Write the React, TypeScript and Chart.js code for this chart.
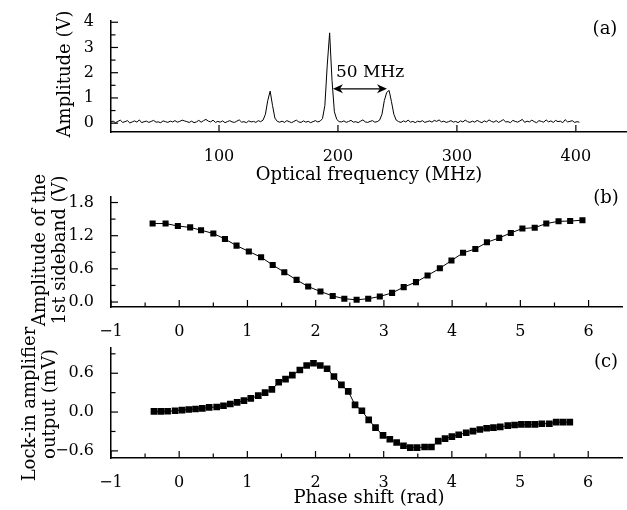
import React, { useEffect, useRef } from 'react';
import { Chart, registerables } from 'chart.js';
Chart.register(...registerables);

const FONT = '"DejaVu Serif", serif';
const W = 627;
const H = 510;

// ---------- Panel (a): optical spectrum ----------
const freqStart = 9; // MHz, first sample
const freqStep = 2; // MHz between samples
const spectrum = [
  // 9 .. 135 MHz baseline
  0.05, 0.08, 0.02, 0.07, 0.12, 0.03, 0.06, 0.10, 0.01, 0.05,
  0.09, 0.04, 0.13, 0.02, 0.06, 0.08, 0.03, 0.07, 0.11, 0.04,
  0.05, 0.02, 0.09, 0.06, 0.03, 0.08, 0.05, 0.10, 0.04, 0.07,
  0.12, 0.09, 0.06, 0.03, 0.08, 0.02, 0.05, 0.11, 0.04, 0.10,
  0.15, 0.08, 0.05, 0.12, 0.03, 0.07, 0.04, 0.09, 0.02, 0.06,
  0.10, 0.05, 0.03, 0.08, 0.13, 0.04, 0.06, 0.02, 0.09, 0.05,
  0.07, 0.03, 0.10, 0.06,
  // 137 .. 149 MHz (lower sideband)
  0.12, 0.35, 0.9, 1.27, 0.7, 0.2, 0.07,
  // 151 .. 183 MHz
  0.04, 0.08, 0.03, 0.10, 0.06, 0.02, 0.07, 0.12, 0.05, 0.03,
  0.09, 0.04, 0.07, 0.02, 0.06, 0.10, 0.05,
  // 185 .. 201 MHz (carrier)
  0.08, 0.18, 0.7, 2.3, 3.58, 1.7, 0.45, 0.15, 0.06,
  // 203 .. 233 MHz
  0.05, 0.09, 0.03, 0.07, 0.11, 0.04, 0.06, 0.02, 0.08, 0.13,
  0.05, 0.03, 0.07, 0.10, 0.04, 0.06,
  // 235 .. 249 MHz (upper sideband)
  0.12, 0.35, 0.9, 1.22, 1.3, 0.85, 0.35, 0.12,
  // 251 .. 403 MHz baseline
  0.06, 0.03, 0.09, 0.05, 0.12, 0.04, 0.07, 0.02, 0.08, 0.05,
  0.10, 0.03, 0.06, 0.09, 0.04, 0.11, 0.07, 0.13, 0.05, 0.08,
  0.03, 0.06, 0.10, 0.04, 0.07, 0.02, 0.09, 0.05, 0.12, 0.06,
  0.03, 0.08, 0.04, 0.11, 0.06, 0.02, 0.09, 0.05, 0.13, 0.07,
  0.04, 0.10, 0.03, 0.08, 0.14, 0.05, 0.06, 0.02, 0.11, 0.07,
  0.04, 0.09, 0.15, 0.03, 0.08, 0.05, 0.12, 0.06, 0.02, 0.10,
  0.07, 0.04, 0.13, 0.05, 0.09, 0.03, 0.11, 0.06, 0.08, 0.02,
  0.14, 0.05, 0.07, 0.10, 0.03, 0.06, 0.04,
];
const freqTicks = [100, 200, 300, 400];
const ampTicksA = [0, 1, 2, 3, 4];
const ampMinorA = [0.5, 1.5, 2.5, 3.5];
const arrowFrom = 195.8; // MHz
const arrowTo = 241.2; // MHz
const arrowLevel = 1.36; // V
const arrowLabel = '50 MHz';

// ---------- Panel (b): 1st sideband amplitude ----------
const phaseB = [
  -0.39, -0.2, -0.02, 0.16, 0.32, 0.5, 0.67, 0.84, 1.02, 1.2,
  1.37, 1.54, 1.72, 1.89, 2.07, 2.25, 2.42, 2.6, 2.77, 2.94,
  3.12, 3.29, 3.47, 3.64, 3.82, 3.99, 4.16, 4.34, 4.51, 4.69,
  4.86, 5.03, 5.21, 5.38, 5.56, 5.73, 5.91,
];
const sidebandB = [
  1.42, 1.42, 1.375, 1.35, 1.3, 1.24, 1.14, 1.02, 0.915, 0.81,
  0.67, 0.54, 0.4, 0.28, 0.19, 0.11, 0.06, 0.04, 0.06, 0.1,
  0.165, 0.27, 0.36, 0.48, 0.61, 0.75, 0.89, 0.96, 1.08, 1.16,
  1.25, 1.33, 1.345, 1.42, 1.46, 1.465, 1.48,
];
const ampTicksB = [0, 0.6, 1.2, 1.8];
const ampMinorB = [0.3, 0.9, 1.5];

// ---------- Panel (c): lock-in amplifier output ----------
const phaseC = [
  -0.37, -0.27, -0.17, -0.06, 0.04, 0.14, 0.24, 0.34, 0.44, 0.55,
  0.65, 0.75, 0.85, 0.95, 1.05, 1.16, 1.26, 1.36, 1.46, 1.56,
  1.66, 1.77, 1.87, 1.97, 2.07, 2.17, 2.27, 2.38, 2.48, 2.58,
  2.68, 2.78, 2.88, 2.99, 3.09, 3.19, 3.29, 3.39, 3.49, 3.6,
  3.7, 3.8, 3.9, 4.0, 4.1, 4.21, 4.31, 4.41, 4.51, 4.61,
  4.71, 4.82, 4.92, 5.02, 5.12, 5.22, 5.32, 5.43, 5.53, 5.63,
  5.73,
];
const lockInC = [
  0.01, 0.01, 0.012, 0.02, 0.03, 0.04, 0.047, 0.057, 0.072, 0.078,
  0.098, 0.124, 0.15, 0.176, 0.212, 0.253, 0.3, 0.35, 0.46, 0.51,
  0.57, 0.65, 0.72, 0.755, 0.72, 0.67, 0.55, 0.42, 0.32, 0.11,
  0.02, -0.12, -0.24, -0.36, -0.42, -0.47, -0.52, -0.55, -0.55, -0.54,
  -0.54, -0.45, -0.41, -0.38, -0.35, -0.32, -0.295, -0.27, -0.25, -0.24,
  -0.23, -0.21, -0.2, -0.19, -0.19, -0.19, -0.18, -0.18, -0.155, -0.155,
  -0.155,
];
const outTicksC = [-0.6, 0, 0.6];
const outMinorC = [-0.3, 0.3, 0.9];

const phaseTicks = [-1, 0, 1, 2, 3, 4, 5, 6];
const phaseMinor = [-0.5, 0.5, 1.5, 2.5, 3.5, 4.5, 5.5];

// ---------- helpers ----------
const minus = (s: string) => s.replace('-', '\u2212');
const fmtInt = (v: number) => minus(String(Math.round(v)));
const fmt1 = (v: number) => minus((Math.abs(v) < 1e-9 ? 0 : v).toFixed(1));

type TextItem = { text: string; x: number; y: number; size: number; rotate?: boolean; align?: CanvasTextAlign };
type PanelCfg = {
  points: { x: number; y: number }[];
  pointRadius: number;
  xMin: number; xMax: number; yMin: number; yMax: number;
  top: number; bottom: number;
  xTicks: number[]; xMinor: number[]; yTicks: number[]; yMinor: number[];
  xFmt: (v: number) => string; yFmt: (v: number) => string;
  texts: TextItem[];
  arrow?: boolean;
};

function makeDecor(cfg: PanelCfg) {
  return {
    id: 'decor',
    afterDraw(chart: any) {
      const ctx: CanvasRenderingContext2D = chart.ctx;
      const xs = chart.scales.x;
      const ys = chart.scales.y;
      const a = chart.chartArea;
      ctx.save();
      ctx.strokeStyle = '#000';
      ctx.fillStyle = '#000';
      ctx.lineWidth = 1.2;
      const seg = (x1: number, y1: number, x2: number, y2: number) => {
        ctx.beginPath();
        ctx.moveTo(x1, y1);
        ctx.lineTo(x2, y2);
        ctx.stroke();
      };
      cfg.xTicks.forEach((v) => { const p = xs.getPixelForValue(v); seg(p, a.bottom, p, a.bottom - 7); });
      cfg.xMinor.forEach((v) => { const p = xs.getPixelForValue(v); seg(p, a.bottom, p, a.bottom - 4.5); });
      cfg.yTicks.forEach((v) => { const p = ys.getPixelForValue(v); seg(a.left, p, a.left + 7, p); });
      cfg.yMinor.forEach((v) => { const p = ys.getPixelForValue(v); seg(a.left, p, a.left + 4.5, p); });

      if (cfg.arrow) {
        const x1 = xs.getPixelForValue(arrowFrom);
        const x2 = xs.getPixelForValue(arrowTo);
        const y = ys.getPixelForValue(arrowLevel);
        seg(x1 + 4, y, x2 - 4, y);
        const head = (tx: number, dir: number) => {
          ctx.beginPath();
          ctx.moveTo(tx, y);
          ctx.lineTo(tx - dir * 10, y - 4.5);
          ctx.lineTo(tx - dir * 7, y);
          ctx.lineTo(tx - dir * 10, y + 4.5);
          ctx.closePath();
          ctx.fill();
        };
        head(x1, -1);
        head(x2, 1);
        ctx.font = `17px ${FONT}`;
        ctx.textAlign = 'left';
        ctx.textBaseline = 'middle';
        ctx.fillText(arrowLabel, x1 + 3, y - 16);
      }

      cfg.texts.forEach((t) => {
        ctx.font = `${t.size}px ${FONT}`;
        ctx.textAlign = t.align || 'center';
        ctx.textBaseline = 'middle';
        if (t.rotate) {
          ctx.save();
          ctx.translate(t.x, t.y);
          ctx.rotate(-Math.PI / 2);
          ctx.fillText(t.text, 0, 0);
          ctx.restore();
        } else {
          ctx.fillText(t.text, t.x, t.y);
        }
      });
      ctx.restore();
    },
  };
}

function makeChart(canvas: HTMLCanvasElement, cfg: PanelCfg) {
  const axisBase = (min: number, max: number, ticks: number[], fmt: (v: number) => string, pad: number) => ({
    type: 'linear' as const,
    min,
    max,
    grid: { display: false },
    border: { display: true, color: '#000', width: 1.5 },
    ticks: {
      color: '#000',
      font: { family: FONT, size: 16 },
      padding: pad,
      maxRotation: 0,
      autoSkip: false,
      callback: (v: any) => fmt(Number(v)),
    },
    afterBuildTicks: (s: any) => { s.ticks = ticks.map((v) => ({ value: v })); },
  });
  return new Chart(canvas, {
    type: 'scatter',
    data: {
      datasets: [
        {
          data: cfg.points,
          showLine: true,
          borderColor: '#000',
          borderWidth: 1,
          backgroundColor: '#000',
          pointStyle: 'rect',
          pointRadius: cfg.pointRadius,
          pointBorderWidth: 0,
          pointHoverRadius: cfg.pointRadius,
        },
      ],
    },
    options: {
      responsive: false,
      animation: false,
      events: [],
      layout: { padding: { left: 0, right: 0, top: cfg.top, bottom: H - cfg.bottom - 30 } },
      plugins: { legend: { display: false }, tooltip: { enabled: false } },
      scales: {
        x: { ...axisBase(cfg.xMin, cfg.xMax, cfg.xTicks, cfg.xFmt, 7), position: 'bottom', afterFit: (s: any) => { s.height = 30; } },
        y: { ...axisBase(cfg.yMin, cfg.yMax, cfg.yTicks, cfg.yFmt, 9), position: 'left', afterFit: (s: any) => { s.width = 111; } },
      },
    } as any,
    plugins: [makeDecor(cfg)],
  });
}

const cfgA: PanelCfg = {
  points: spectrum.map((y, i) => ({ x: freqStart + i * freqStep, y })),
  pointRadius: 0,
  xMin: 9.2, xMax: 443, yMin: -0.35, yMax: 4.05,
  top: 21, bottom: 132,
  xTicks: freqTicks, xMinor: [], yTicks: ampTicksA, yMinor: ampMinorA,
  xFmt: fmtInt, yFmt: fmtInt,
  texts: [
    { text: 'Amplitude (V)', x: 65, y: 74, size: 18, rotate: true },
    { text: 'Optical frequency (MHz)', x: 369, y: 175, size: 18 },
    { text: '(a)', x: 605, y: 29, size: 18 },
  ],
  arrow: true,
};

const cfgB: PanelCfg = {
  points: phaseB.map((x, i) => ({ x, y: sidebandB[i] })),
  pointRadius: 4.3,
  xMin: -1, xMax: 6.5, yMin: -0.09, yMax: 1.9,
  top: 197, bottom: 307,
  xTicks: phaseTicks, xMinor: phaseMinor, yTicks: ampTicksB, yMinor: ampMinorB,
  xFmt: fmtInt, yFmt: fmt1,
  texts: [
    { text: 'Amplitude of the', x: 40, y: 250, size: 18, rotate: true },
    { text: '1st sideband (V)', x: 60, y: 250, size: 18, rotate: true },
    { text: '(b)', x: 606, y: 198, size: 18 },
  ],
};

const cfgC: PanelCfg = {
  points: phaseC.map((x, i) => ({ x, y: lockInC[i] })),
  pointRadius: 4.7,
  xMin: -1, xMax: 6.5, yMin: -0.71, yMax: 0.99,
  top: 348, bottom: 458,
  xTicks: phaseTicks, xMinor: phaseMinor, yTicks: outTicksC, yMinor: outMinorC,
  xFmt: fmtInt, yFmt: fmt1,
  texts: [
    { text: 'Lock-in amplifier', x: 30, y: 404, size: 18, rotate: true },
    { text: 'output (mV)', x: 50, y: 404, size: 18, rotate: true },
    { text: '(c)', x: 606, y: 362, size: 18 },
    { text: 'Phase shift (rad)', x: 369, y: 498, size: 18 },
  ],
};

export default function App() {
  const r1 = useRef<HTMLCanvasElement>(null);
  const r2 = useRef<HTMLCanvasElement>(null);
  const r3 = useRef<HTMLCanvasElement>(null);
  useEffect(() => {
    const charts = [
      makeChart(r1.current!, cfgA),
      makeChart(r2.current!, cfgB),
      makeChart(r3.current!, cfgC),
    ];
    return () => charts.forEach((c) => c.destroy());
  }, []);
  const st: React.CSSProperties = { position: 'absolute', left: 0, top: 0, width: W, height: H };
  return (
    <div style={{ position: 'fixed', left: 0, top: 0, width: W, height: H, background: '#fff' }}>
      <canvas ref={r1} width={W} height={H} style={st} />
      <canvas ref={r2} width={W} height={H} style={st} />
      <canvas ref={r3} width={W} height={H} style={st} />
    </div>
  );
}
